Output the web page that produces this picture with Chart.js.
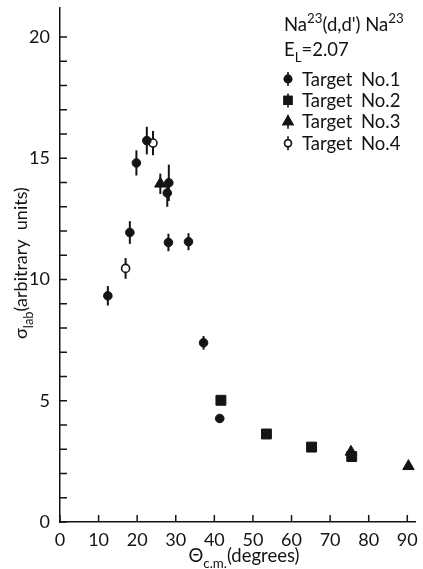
<!DOCTYPE html>
<html>
<head>
<meta charset="utf-8">
<script src="https://cdn.jsdelivr.net/npm/chart.js@4/dist/chart.umd.min.js"></script>
<style>
	body { margin: 0; background: #fff; }
	canvas { display: block; }
</style>
</head>
<body>
<canvas id="chart" width="423" height="569"></canvas>
<script>
// values (angle in degrees c.m., sigma in arbitrary units)
const target1Angle = [12.4, 18.1, 19.8, 22.5, 27.8, 28.2, 28.1, 33.3, 37.2, 41.4];
const target1Sigma = [9.33, 11.94, 14.81, 15.73, 13.57, 13.99, 11.53, 11.56, 7.39, 4.27];
const target1Error = [0.4, 0.47, 0.52, 0.57, 0.57, 0.75, 0.36, 0.35, 0.28, 0];

const target2Angle = [41.7, 53.5, 65.2, 75.6];
const target2Sigma = [5.02, 3.63, 3.09, 2.7];

const target3Angle = [26.0, 75.4, 90.3];
const target3Sigma = [13.95, 2.89, 2.3];
const target3Error = [0.42, 0, 0];

const target4Angle = [17.0, 24.1];
const target4Sigma = [10.46, 15.63];
const target4Error = [0.43, 0.5];

const xTickValues = [0, 10, 20, 30, 40, 50, 60, 70, 80, 90];
const yTickValues = [0, 1, 2, 3, 4, 5, 6, 7, 8, 9, 10, 11, 12, 13, 14, 15, 16, 17, 18, 19, 20];
const yLabelEvery = 5;

const ink = '#141414';
const fontFamily = 'Lato, "Open Sans", sans-serif';

function toPoints(angles, sigmas, errors) {
	return angles.map((a, i) => ({ x: a, y: sigmas[i], err: errors ? errors[i] : 0 }));
}

// no extra room for the edge labels, the plot box is fixed
function noPadding(scale) {
	scale.paddingTop = 0;
	scale.paddingBottom = 0;
	scale.paddingLeft = 0;
	scale.paddingRight = 0;
}

// draw the little tick marks pointing into the plot
const inwardTicks = {
	id: 'inwardTicks',
	afterDraw(chart) {
		const { ctx, chartArea, scales } = chart;
		ctx.save();
		ctx.strokeStyle = ink;
		ctx.lineWidth = 1.5;
		ctx.beginPath();
		for (const t of scales.x.ticks) {
			const px = scales.x.getPixelForValue(t.value);
			ctx.moveTo(px, chartArea.bottom);
			ctx.lineTo(px, chartArea.bottom - 7);
		}
		for (const t of scales.y.ticks) {
			const py = scales.y.getPixelForValue(t.value);
			ctx.moveTo(chartArea.left, py);
			ctx.lineTo(chartArea.left + 7, py);
		}
		ctx.stroke();
		ctx.restore();
	},
};

const errorBars = {
	id: 'errorBars',
	beforeDatasetsDraw(chart) {
		const { ctx, scales } = chart;
		ctx.save();
		ctx.strokeStyle = ink;
		ctx.lineWidth = 2;
		chart.data.datasets.forEach((ds) => {
			ds.data.forEach((p) => {
				if (!p.err) return;
				const px = scales.x.getPixelForValue(p.x);
				ctx.beginPath();
				ctx.moveTo(px, scales.y.getPixelForValue(p.y - p.err));
				ctx.lineTo(px, scales.y.getPixelForValue(p.y + p.err));
				ctx.stroke();
			});
		});
		ctx.restore();
	},
};

// text pieces: [text, 'sub' | 'sup' | undefined]
function drawRich(ctx, x, y, parts, size) {
	let cx = x;
	for (const [txt, kind] of parts) {
		const s = kind ? size * 0.72 : size;
		ctx.font = s + 'px ' + fontFamily;
		const dy = kind === 'sub' ? size * 0.32 : kind === 'sup' ? -size * 0.45 : 0;
		ctx.fillText(txt, cx, y + dy);
		cx += ctx.measureText(txt).width;
	}
	return cx - x;
}

function measureRich(ctx, parts, size) {
	let w = 0;
	for (const [txt, kind] of parts) {
		ctx.font = (kind ? size * 0.72 : size) + 'px ' + fontFamily;
		w += ctx.measureText(txt).width;
	}
	return w;
}

const annotations = {
	id: 'annotations',
	afterDraw(chart) {
		const { ctx } = chart;
		ctx.save();
		ctx.fillStyle = ink;
		ctx.strokeStyle = ink;
		ctx.textBaseline = 'alphabetic';
		ctx.textAlign = 'left';

		// x title
		const xTitle = [['Θ'], ['c.m.', 'sub'], ['(degrees)']];
		const xw = measureRich(ctx, xTitle, 18.5);
		drawRich(ctx, 244 - xw / 2, 562, xTitle, 18.5);

		// y title, rotated
		const yTitle = [['σ'], ['lab', 'sub'], ['(arbitrary  units)']];
		const yw = measureRich(ctx, yTitle, 18);
		ctx.save();
		ctx.translate(27, 263);
		ctx.rotate(-Math.PI / 2);
		drawRich(ctx, -yw / 2, 0, yTitle, 18);
		ctx.restore();

		// reaction label
		drawRich(ctx, 284, 31, [['Na'], ['23', 'sup'], ["(d,d') Na"], ['23', 'sup']], 18.5);
		drawRich(ctx, 284, 56, [['E'], ['L', 'sub'], ['=2.07']], 18.5);

		// legend
		const rows = [
			{ style: 'circle', fill: ink, r: 3.6, name: 'No.1' },
			{ style: 'rect', fill: ink, r: 5.4, name: 'No.2' },
			{ style: 'triangle', fill: ink, r: 5.4, name: 'No.3' },
			{ style: 'circle', fill: '#fff', r: 3.4, name: 'No.4' },
		];
		rows.forEach((row, i) => {
			const cy = 79 + i * 21.4;
			ctx.lineWidth = 1.6;
			ctx.beginPath();
			ctx.moveTo(288, cy - 7);
			ctx.lineTo(288, cy + 7);
			ctx.stroke();
			ctx.fillStyle = row.fill;
			Chart.helpers.drawPoint(ctx, { pointStyle: row.style, radius: row.r, borderWidth: 1.4 }, 288, cy);
			ctx.fill();
			ctx.stroke();
			ctx.fillStyle = ink;
			ctx.font = '18.5px ' + fontFamily;
			ctx.fillText('Target', 302, cy + 6.5);
			ctx.fillText(row.name, 361, cy + 6.5);
		});
		ctx.restore();
	},
};

const ctx = document.getElementById('chart');

new Chart(ctx, {
	type: 'scatter',
	data: {
		datasets: [
			{
				label: 'Target No.1',
				data: toPoints(target1Angle, target1Sigma, target1Error),
				pointStyle: 'circle',
				pointRadius: 4.3,
				backgroundColor: ink,
				borderColor: ink,
				borderWidth: 1,
			},
			{
				label: 'Target No.2',
				data: toPoints(target2Angle, target2Sigma),
				pointStyle: 'rect',
				pointRadius: 7,
				backgroundColor: ink,
				borderColor: ink,
				borderWidth: 1,
			},
			{
				label: 'Target No.3',
				data: toPoints(target3Angle, target3Sigma, target3Error),
				pointStyle: 'triangle',
				pointRadius: 6.6,
				backgroundColor: ink,
				borderColor: ink,
				borderWidth: 1,
			},
			{
				label: 'Target No.4',
				data: toPoints(target4Angle, target4Sigma, target4Error),
				pointStyle: 'circle',
				pointRadius: 4,
				backgroundColor: '#fff',
				borderColor: ink,
				borderWidth: 1.6,
			},
		],
	},
	options: {
		responsive: false,
		animation: false,
		layout: {
			padding: { top: 4, right: 6, left: 0, bottom: 0 },
		},
		plugins: {
			legend: { display: false },
			tooltip: { enabled: false },
		},
		scales: {
			x: {
				type: 'linear',
				min: 0,
				max: 92,
				afterBuildTicks: (scale) => {
					scale.ticks = xTickValues.map((v) => ({ value: v }));
				},
				afterFit: (scale) => {
					scale.height = 47;
					noPadding(scale);
				},
				grid: { display: false, drawTicks: false },
				border: { display: true, color: ink, width: 1.5 },
				ticks: {
					color: ink,
					padding: 7,
					maxRotation: 0,
					autoSkip: false,
					font: { family: fontFamily, size: 18 },
				},
			},
			y: {
				type: 'linear',
				min: 0,
				max: 21.2,
				afterBuildTicks: (scale) => {
					scale.ticks = yTickValues.map((v) => ({ value: v }));
				},
				afterFit: (scale) => {
					scale.width = 60;
					noPadding(scale);
				},
				grid: { display: false, drawTicks: false },
				border: { display: true, color: ink, width: 1.5 },
				ticks: {
					color: ink,
					padding: 10,
					autoSkip: false,
					font: { family: fontFamily, size: 18 },
					callback: (value) => (value % yLabelEvery === 0 ? String(value) : ''),
				},
			},
		},
	},
	plugins: [inwardTicks, errorBars, annotations],
});
</script>
</body>
</html>
